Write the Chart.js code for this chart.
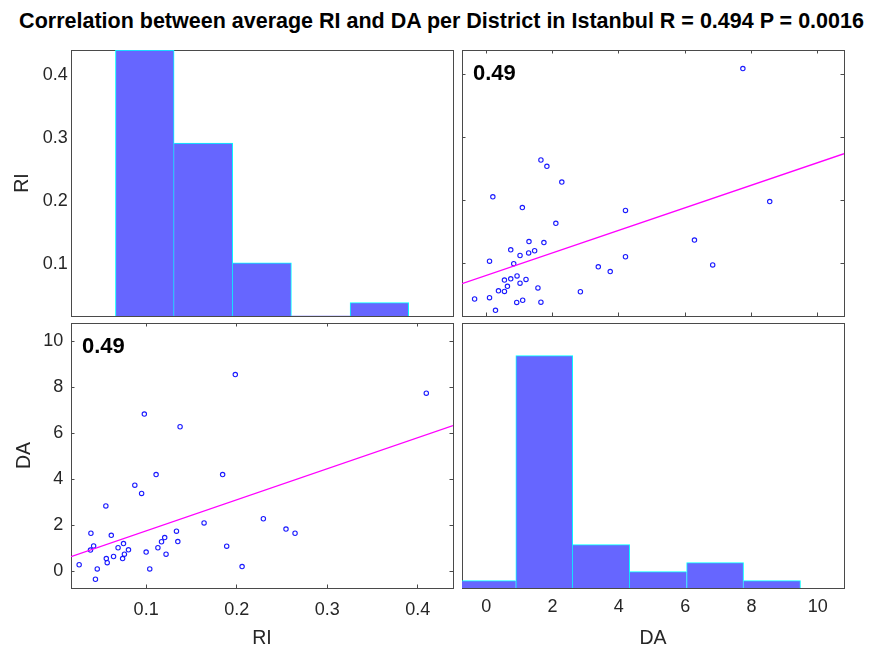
<!DOCTYPE html>
<html>
<head>
<meta charset="utf-8">
<title>Correlation between average RI and DA per District in Istanbul</title>
<script src="https://cdn.jsdelivr.net/npm/chart.js@4.4.1/dist/chart.umd.min.js"></script>
<style>
    html, body { margin: 0; padding: 0; background: #fff; }
    #page { position: relative; width: 877px; height: 648px; overflow: hidden; }
    #page canvas { position: absolute; left: 0; top: 0; }
    #title {
        position: absolute; left: 3px; top: 11px; width: 877px;
        text-align: center; white-space: nowrap; color: #000;
        font: bold 21.5px/1 "Liberation Sans", Arial, sans-serif;
    }
</style>
</head>
<body>
<div id="page">
    <div id="title">Correlation between average RI and DA per District in Istanbul R = 0.494 P = 0.0016</div>
    <canvas id="histRI" width="877" height="648"></canvas>
    <canvas id="scatterDaRi" width="877" height="648"></canvas>
    <canvas id="scatterRiDa" width="877" height="648"></canvas>
    <canvas id="histDA" width="877" height="648"></canvas>
</div>
<script>
// Values (one entry per district)
const riValues = [0.026, 0.039, 0.042, 0.0385, 0.046, 0.044, 0.0555, 0.056, 0.057, 0.0615,
                  0.064, 0.069, 0.075, 0.074, 0.076, 0.0805, 0.0875, 0.095, 0.098, 0.100,
                  0.104, 0.111, 0.113, 0.117, 0.1205, 0.122, 0.1335, 0.135, 0.1375, 0.164,
                  0.1845, 0.189, 0.1985, 0.206, 0.2295, 0.2545, 0.2645, 0.4095];
const daValues = [0.28, 1.65, 1.10, 0.92, 0.10, -0.35, 2.84, 0.55, 0.37, 1.56,
                  0.64, 1.02, 1.20, 0.55, 0.74, 0.93, 3.74, 3.38, 6.83, 0.83,
                  0.10, 4.20, 1.02, 1.28, 1.46, 0.74, 1.74, 1.29, 6.28, 2.10,
                  4.20, 1.09, 8.55, 0.20, 2.28, 1.83, 1.65, 7.74];

// Axis limits and ticks
const riRange = [0.017, 0.439];
const daRange = [-0.73, 10.79];
const riTicks = [0.1, 0.2, 0.3, 0.4];
const daTicks = [0, 2, 4, 6, 8, 10];

// Histograms on the diagonal
const riHistEdges = [0.0661, 0.1309, 0.1957, 0.2605, 0.3253, 0.3901];
const riHistCounts = [20, 13, 4, 0, 1];
const riHistCountRange = [0, 20];
const daHistEdges = [-0.824, 0.893, 2.610, 4.327, 6.044, 7.761, 9.478];
const daHistCounts = [1, 26, 5, 2, 3, 1];
const daHistCountRange = [0.185, 29.63];

// Least squares lines (intercept, slope) and the printed coefficient
const fitDaOnRi = [0.40, 13.5];
const fitRiOnDa = [0.0813, 0.0179];
const corrLabel = '0.49';

const ink = '#262626';
const boxColor = '#4a4a4a';
const barFill = '#6666ff';
const barEdge = '#00ffff';
const markerColor = '#1a1aff';
const lineColor = '#ff00ff';

Chart.defaults.font.family = '"Liberation Sans", Arial, sans-serif';
Chart.defaults.color = ink;

// Draws the "0.49" in the corner of the scatter panels
const corrLabelPlugin = {
    id: 'corrLabel',
    afterDatasetsDraw(chart, args, opts) {
        if (!opts.text) return;
        const { ctx, chartArea } = chart;
        ctx.save();
        ctx.font = 'bold 22px "Liberation Sans", Arial, sans-serif';
        ctx.fillStyle = '#000';
        ctx.textBaseline = 'alphabetic';
        ctx.fillText(opts.text, chartArea.left + 11, chartArea.top + 29.5);
        ctx.restore();
    }
};

// One axis of a panel; MATLAB style box with inward tick marks
function axis(o) {
    const cfg = {
        type: 'linear',
        position: o.position,
        min: o.range[0],
        max: o.range[1],
        offset: false,
        afterFit: s => {
            if (s.isHorizontal()) s.height = o.size || 0;
            else s.width = o.size || 0;
        },
        border: { display: true, color: boxColor, width: 1 },
        grid: { display: !!o.marks, offset: false, drawOnChartArea: false, drawTicks: true, tickLength: -3.5, color: boxColor },
        ticks: {
            display: !!o.labels, color: ink, font: { size: 18 }, padding: o.labelPad || 0,
            autoSkip: false, maxRotation: 0, minRotation: 0
        },
        title: o.title
            ? { display: true, text: o.title, color: ink, font: { size: 19.5, lineHeight: 1 }, padding: o.titlePad }
            : { display: false }
    };
    if (o.ticks) cfg.afterBuildTicks = s => { s.ticks = o.ticks.map(v => ({ value: v })); };
    return cfg;
}

// Each shared bin edge is drawn once, by the taller bar
const histBorders = counts => ctx => {
    const i = ctx.dataIndex, c = counts[i];
    return {
        top: 1, bottom: 0,
        left: (i === 0 || counts[i - 1] <= c) ? 1 : 0,
        right: (i === counts.length - 1 || counts[i + 1] < c) ? 1 : 0
    };
};

const histData = (edges, counts) => counts.map((c, i) => ({ x: (edges[i] + edges[i + 1]) / 2, y: c }));
const fitLine = (fit, range) => range.map(v => ({ x: v, y: fit[0] + fit[1] * v }));

const common = {
    responsive: false,
    animation: false,
    events: [],
    plugins: { legend: { display: false }, tooltip: { enabled: false } }
};

const histDataset = (edges, counts) => ({
    type: 'bar',
    xAxisID: 'x',
    yAxisID: 'y',
    data: histData(edges, counts),
    backgroundColor: barFill,
    borderColor: barEdge,
    borderWidth: histBorders(counts),
    barPercentage: 1,
    categoryPercentage: 1,
    clip: 0
});

const scatterDatasets = (xs, ys, fit, xRange) => [
    {
        type: 'line',
        xAxisID: 'x',
        yAxisID: 'y',
        data: fitLine(fit, xRange),
        borderColor: lineColor,
        borderWidth: 1.3,
        pointRadius: 0,
        fill: false
    },
    {
        type: 'scatter',
        xAxisID: 'x',
        yAxisID: 'y',
        data: xs.map((v, i) => ({ x: v, y: ys[i] })),
        pointStyle: 'circle',
        pointRadius: 2.2,
        pointBorderWidth: 1.1,
        pointBorderColor: markerColor,
        pointBackgroundColor: 'rgba(255,255,255,0)'
    }
];

// Top left: histogram of RI
new Chart(document.getElementById('histRI'), {
    type: 'bar',
    data: { datasets: [histDataset(riHistEdges, riHistCounts)] },
    options: {
        ...common,
        layout: { padding: { left: 0, top: 50, right: 424, bottom: 332 } },
        scales: {
            x: axis({ position: 'bottom', range: riRange, ticks: riTicks }),
            xTop: axis({ position: 'top', range: riRange, ticks: riTicks }),
            yRI: axis({ position: 'left', range: riRange, ticks: riTicks, labels: true, labelPad: 6.7,
                        size: 71, title: 'RI', titlePad: { top: 12.75, bottom: 0 } }),
            y: axis({ position: 'right', range: riHistCountRange })
        }
    }
});

// Top right: RI against DA
new Chart(document.getElementById('scatterDaRi'), {
    type: 'scatter',
    data: { datasets: scatterDatasets(daValues, riValues, fitRiOnDa, daRange) },
    plugins: [corrLabelPlugin],
    options: {
        ...common,
        plugins: { ...common.plugins, corrLabel: { text: corrLabel } },
        layout: { padding: { left: 462, top: 50, right: 33, bottom: 332 } },
        scales: {
            x: axis({ position: 'bottom', range: daRange, ticks: daTicks, marks: true }),
            xTop: axis({ position: 'top', range: daRange, ticks: daTicks, marks: true }),
            y: axis({ position: 'left', range: riRange, ticks: riTicks, marks: true }),
            yRight: axis({ position: 'right', range: riRange, ticks: riTicks, marks: true })
        }
    }
});

// Bottom left: DA against RI
new Chart(document.getElementById('scatterRiDa'), {
    type: 'scatter',
    data: { datasets: scatterDatasets(riValues, daValues, fitDaOnRi, riRange) },
    plugins: [corrLabelPlugin],
    options: {
        ...common,
        plugins: { ...common.plugins, corrLabel: { text: corrLabel } },
        layout: { padding: { left: 0, top: 323, right: 424, bottom: 0 } },
        scales: {
            x: axis({ position: 'bottom', range: riRange, ticks: riTicks, marks: true, labels: true, labelPad: 15,
                      size: 60, title: 'RI', titlePad: { top: 0, bottom: 0 } }),
            xTop: axis({ position: 'top', range: riRange, ticks: riTicks, marks: true }),
            y: axis({ position: 'left', range: daRange, ticks: daTicks, marks: true, labels: true, labelPad: 11.2,
                      size: 71, title: 'DA', titlePad: { top: 15.25, bottom: 0 } }),
            yRight: axis({ position: 'right', range: daRange, ticks: daTicks, marks: true })
        }
    }
});

// Bottom right: histogram of DA
new Chart(document.getElementById('histDA'), {
    type: 'bar',
    data: { datasets: [histDataset(daHistEdges, daHistCounts)] },
    options: {
        ...common,
        layout: { padding: { left: 462, top: 323, right: 33, bottom: 0 } },
        scales: {
            x: axis({ position: 'bottom', range: daRange, ticks: daTicks, labels: true, labelPad: 11.5,
                      size: 60, title: 'DA', titlePad: { top: 0, bottom: 0 } }),
            xTop: axis({ position: 'top', range: daRange, ticks: daTicks }),
            y: axis({ position: 'left', range: daHistCountRange }),
            yRight: axis({ position: 'right', range: daHistCountRange })
        }
    }
});
</script>
</body>
</html>
